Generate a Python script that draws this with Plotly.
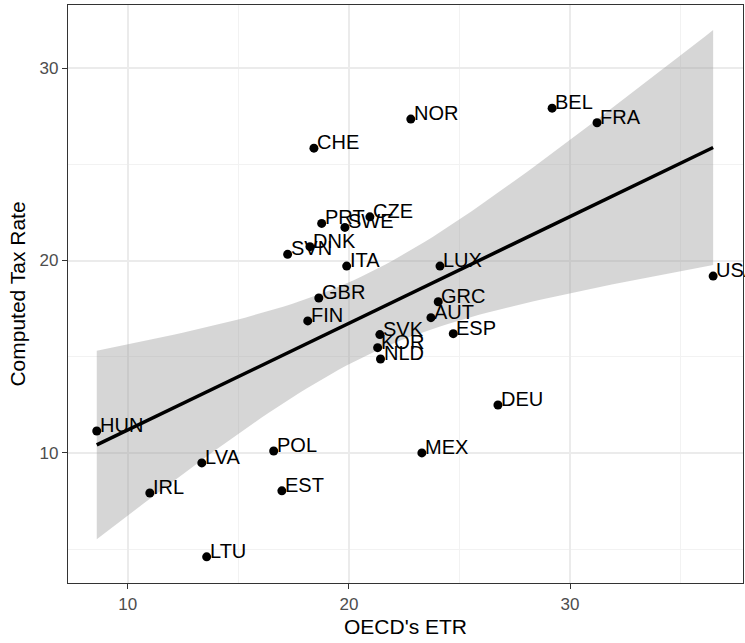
import numpy as np
import plotly.graph_objects as go

countries = ["HUN", "IRL", "LVA", "LTU", "POL", "EST", "MEX", "DEU", "FIN", "GBR",
             "SVN", "DNK", "PRT", "SWE", "CZE", "ITA", "LUX", "GRC", "AUT", "ESP",
             "SVK", "KOR", "NLD", "CHE", "NOR", "BEL", "FRA", "USA"]
oecd_etr = [8.6, 11.0, 13.35, 13.57, 16.6, 16.97, 23.3, 26.74, 18.14, 18.64,
            17.23, 18.24, 18.77, 19.82, 20.95, 19.9, 24.12, 24.04, 23.71, 24.72,
            21.4, 21.3, 21.43, 18.42, 22.8, 29.19, 31.22, 36.47]
computed_rate = [11.14, 7.92, 9.48, 4.6, 10.1, 8.03, 10.0, 12.49, 16.86, 18.05,
                 20.32, 20.72, 21.93, 21.72, 22.27, 19.71, 19.71, 17.86, 17.03, 16.2,
                 16.15, 15.47, 14.88, 25.84, 27.35, 27.92, 27.16, 19.19]
x_ticks = [10, 20, 30]
y_ticks = [10, 20, 30]

x = np.array(oecd_etr)
y = np.array(computed_rate)
n = len(x)
b1, b0 = np.polyfit(x, y, 1)
xs = np.linspace(x.min(), x.max(), 80)
fit = b0 + b1 * xs
resid = y - (b0 + b1 * x)
s = np.sqrt(np.sum(resid ** 2) / (n - 2))
sxx = np.sum((x - x.mean()) ** 2)
se = s * np.sqrt(1.0 / n + (xs - x.mean()) ** 2 / sxx)
tq = 2.0555  # t(0.975, df=26)
upper = fit + tq * se
lower = fit - tq * se

FONT = "Liberation Sans, Arial, sans-serif"

fig = go.Figure()
fig.add_trace(go.Scatter(
    x=np.concatenate([xs, xs[::-1]]), y=np.concatenate([upper, lower[::-1]]),
    fill="toself", fillcolor="rgba(153,153,153,0.4)", line=dict(width=0),
    mode="lines", hoverinfo="skip", showlegend=False))
fig.add_trace(go.Scatter(x=oecd_etr, y=computed_rate, mode="markers",
                         marker=dict(color="black", size=9), showlegend=False))
fig.add_trace(go.Scatter(x=xs, y=fit, mode="lines",
                         line=dict(color="black", width=3.5), showlegend=False))

for c, xv, yv in zip(countries, oecd_etr, computed_rate):
    fig.add_annotation(x=xv, y=yv, text=c, showarrow=False, xanchor="left",
                       yanchor="bottom", xshift=1, yshift=-7,
                       font=dict(family=FONT, size=20, color="black"))

axis_common = dict(
    showline=True, mirror=True, linecolor="#333333", linewidth=1.2,
    ticks="outside", ticklen=5, tickcolor="#333333", tickwidth=1.2,
    showgrid=True, gridcolor="#EBEBEB", gridwidth=1.6, zeroline=False,
    tickfont=dict(family=FONT, size=17, color="#4D4D4D"),
    minor=dict(dtick=5, showgrid=True, gridcolor="#F2F2F2", gridwidth=0.9, ticks=""),
)
fig.update_xaxes(range=[7.3, 37.82], tickvals=x_ticks, tick0=0,
                 title=dict(text="OECD's ETR", font=dict(family=FONT, size=21, color="black"),
                            standoff=6),
                 **axis_common)
fig.update_yaxes(range=[3.24, 33.28], tickvals=y_ticks, tick0=0,
                 title=dict(text="Computed Tax Rate", font=dict(family=FONT, size=21, color="black"),
                            standoff=8),
                 **axis_common)
fig.update_layout(width=745, height=643, plot_bgcolor="white", paper_bgcolor="white",
                  margin=dict(l=68, r=2, t=5, b=60), showlegend=False)
fig.write_html("out.html")
